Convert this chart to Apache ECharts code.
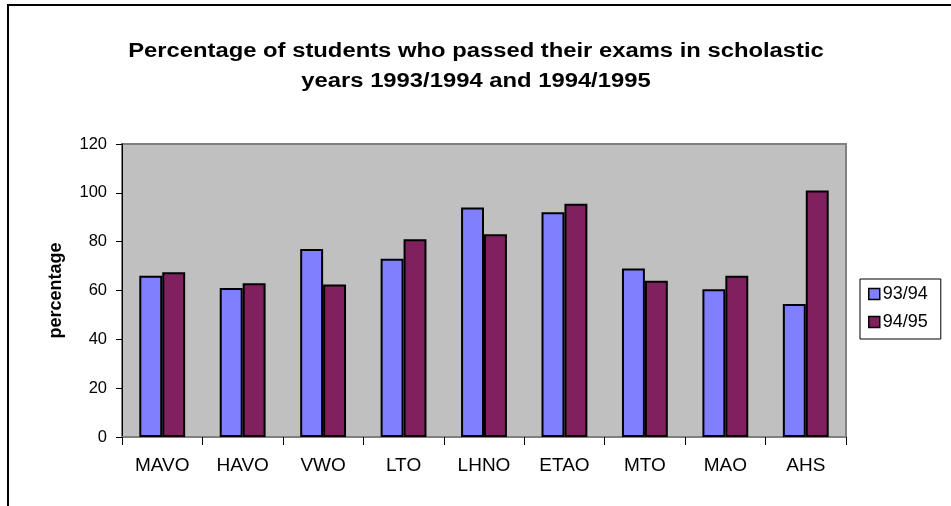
<!DOCTYPE html>
<html>
<head>
<meta charset="utf-8">
<script src="https://cdn.jsdelivr.net/npm/echarts@6/dist/echarts.min.js"></script>
<style>
  html, body { margin: 0; padding: 0; background: #fff; }
  #frame { position: absolute; left: 7px; top: 4px; width: 960px; height: 520px;
           border-left: 2px solid #000; border-top: 2px solid #000; }
  #chart { position: absolute; left: 0; top: 0; width: 951px; height: 506px; }
</style>
</head>
<body>
<div id="frame"></div>
<div id="chart"></div>
<script>
// 数据
const categories = ['MAVO', 'HAVO', 'VWO', 'LTO', 'LHNO', 'ETAO', 'MTO', 'MAO', 'AHS']
const values9394 = [66, 61, 77, 73, 94, 92, 69, 60.5, 54.5]
const values9495 = [67.5, 63, 62.5, 81, 83, 95.5, 64, 66, 101]
const seriesNames = ['93/94', '94/95']
const titleText = 'Percentage of students who passed their exams in scholastic\nyears 1993/1994 and 1994/1995'

const font = 'Liberation Sans, Arial, sans-serif'

const chart = echarts.init(document.getElementById('chart'))

chart.setOption({
  animation: false,
  // 标题用 graphic 文本，略微横向拉宽以贴合原图
  graphic: [{
    type: 'text',
    x: 476,
    y: 36,
    scaleX: 1.19,
    style: {
      text: titleText,
      fontFamily: font,
      fontSize: 20,
      fontWeight: 'bold',
      fill: '#000',
      align: 'center',
      verticalAlign: 'top',
      lineHeight: 30
    }
  }],
  legend: {
    orient: 'vertical',
    left: 860,
    top: 279,
    padding: [6, 13, 8, 8],
    itemGap: 10,
    itemWidth: 11,
    itemHeight: 11,
    icon: 'rect',
    borderColor: '#000',
    borderWidth: 1,
    textStyle: { fontFamily: font, fontSize: 18, color: '#000', padding: [0, 0, 0, -2] },
    data: seriesNames.map(n => ({ name: n, itemStyle: { borderColor: '#000', borderWidth: 1.5 } }))
  },
  grid: {
    left: 122, right: 105, top: 144, bottom: 69,
    show: true,
    backgroundColor: '#C0C0C0',
    borderColor: '#808080',
    borderWidth: 2
  },
  xAxis: {
    type: 'category',
    data: categories,
    axisLine: { lineStyle: { color: '#808080', width: 2 } },
    axisTick: { show: true, length: 8, lineStyle: { color: '#000' } },
    axisLabel: { fontFamily: font, fontSize: 19, color: '#000', margin: 19 }
  },
  yAxis: {
    type: 'value',
    min: 0,
    max: 120,
    interval: 20,
    name: 'percentage',
    nameLocation: 'middle',
    nameGap: 57,
    nameTextStyle: { fontFamily: font, fontSize: 18, fontWeight: 'bold', color: '#000' },
    axisLine: { show: true, lineStyle: { color: '#000', width: 1 } },
    axisTick: { show: true, length: 6, lineStyle: { color: '#000' } },
    axisLabel: { fontFamily: font, fontSize: 16.5, color: '#000', margin: 15 },
    splitLine: { show: false }
  },
  series: [
    {
      name: seriesNames[0],
      type: 'bar',
      data: values9394,
      barGap: '0%',
      barCategoryGap: '43%',
      itemStyle: { color: '#8080FF', borderColor: '#000', borderWidth: 2 }
    },
    {
      name: seriesNames[1],
      type: 'bar',
      data: values9495,
      barGap: '0%',
      barCategoryGap: '43%',
      itemStyle: { color: '#80205F', borderColor: '#000', borderWidth: 2 }
    }
  ]
})

window.addEventListener('resize', () => chart.resize())
</script>
</body>
</html>
